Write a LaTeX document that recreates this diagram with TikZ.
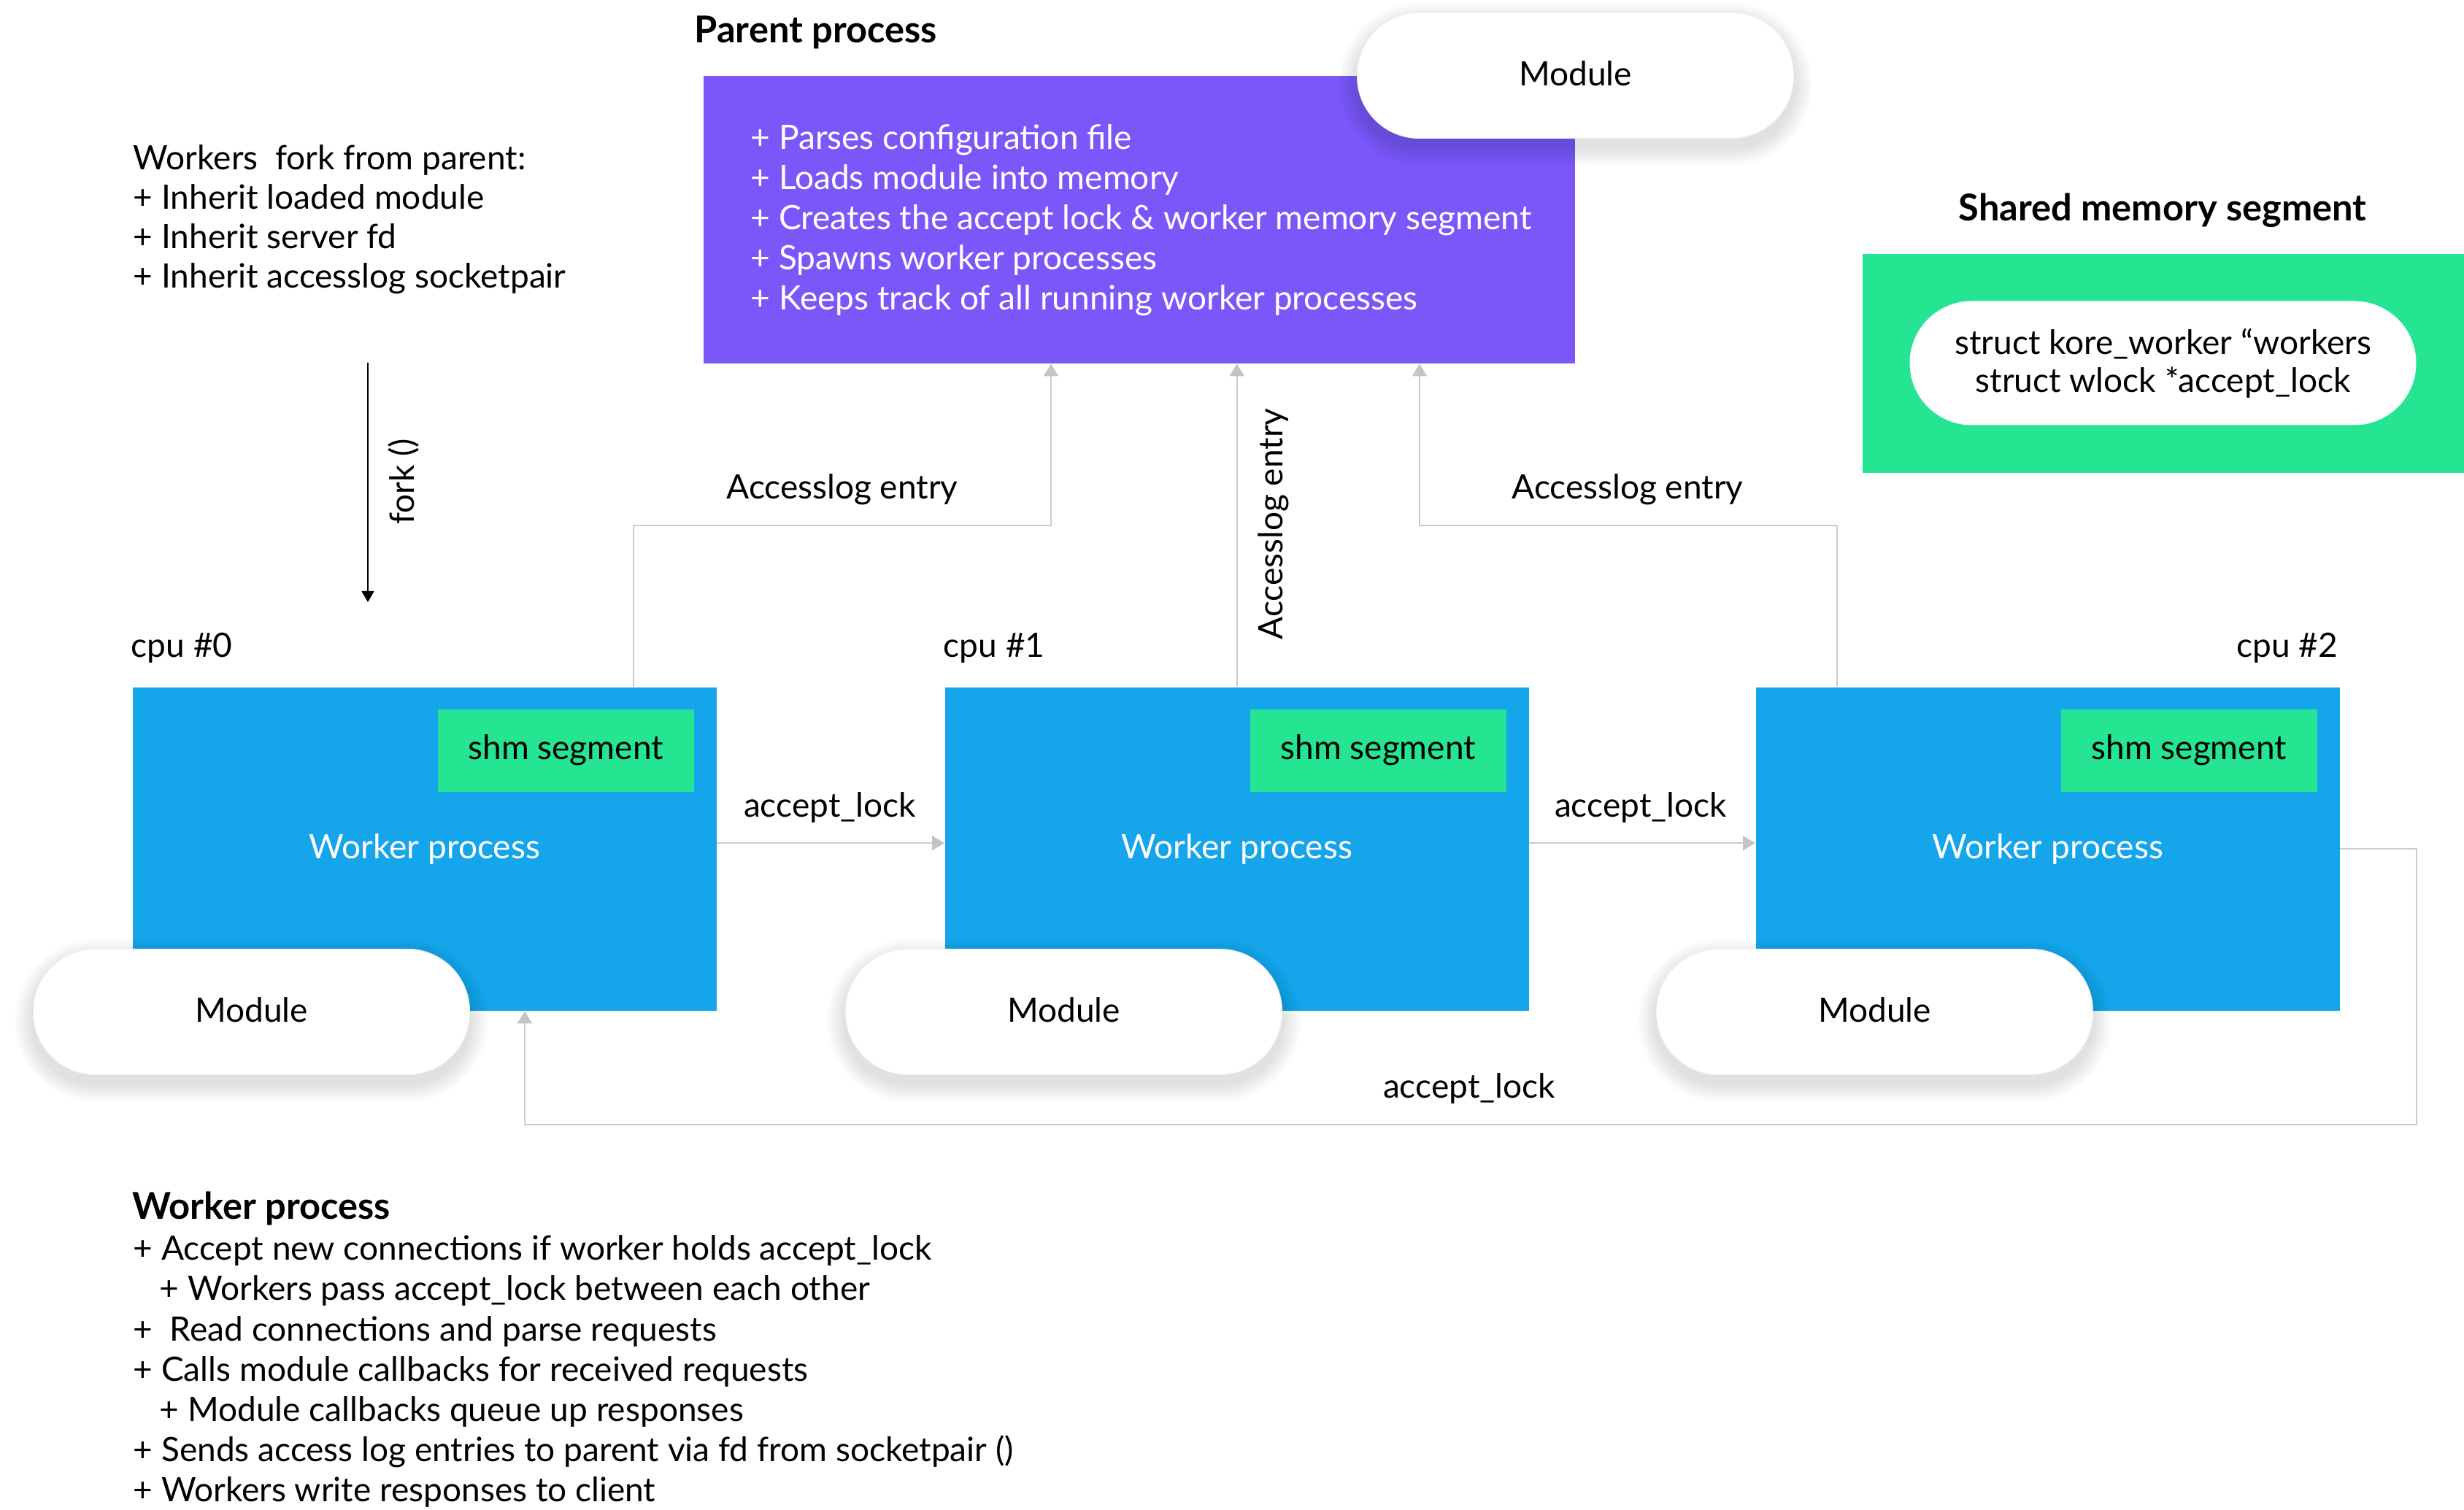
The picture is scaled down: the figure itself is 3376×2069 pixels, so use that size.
\documentclass[tikz,border=0pt]{standalone}
\usepackage{fontspec}
\setmainfont{Lato}
\usetikzlibrary{arrows.meta,calc}
\pgfdeclarelayer{back}
\pgfdeclarelayer{shade}
\pgfsetlayers{back,shade,main}
\definecolor{purp}{HTML}{7B57F9}
\definecolor{wblue}{HTML}{14A5EB}
\definecolor{sgreen}{HTML}{25E592}
\definecolor{lgrey}{HTML}{C9CDD1}
\definecolor{agrey}{HTML}{C4C4C4}
\tikzset{
  txt/.style={font=\fontsize{13.1pt}{15pt}\selectfont, inner sep=0pt},
  hd/.style={font=\fontsize{14.4pt}{16pt}\selectfont\bfseries, inner sep=0pt},
  box/.style={inner sep=0pt, anchor=north west},
  pill/.style={fill=white, draw=black!6, line width=0.1mm, rounded corners=8.5mm, anchor=north west,
    minimum width=59.8mm, minimum height=17.2mm, inner sep=0pt},
  conn/.style={draw=lgrey, line width=0.2mm, -{Triangle[width=2mm,length=1.7mm,color=agrey]}},
}
\begin{document}
\begin{tikzpicture}[x=0.1mm,y=-0.1mm]
\useasboundingbox (0,0) rectangle (3376,2069);

\begin{pgfonlayer}{back}
\fill[white] (0,0) rectangle (3376,2069);
\node[box, fill=purp, minimum width=119.4mm, minimum height=39.4mm] (parent) at (963,103) {};
\node[box, fill=sgreen, minimum width=82.5mm, minimum height=30mm] (shm) at (2551,347) {};
\node[box, fill=wblue, minimum width=80mm, minimum height=44.3mm, text=white, txt] (w0) at (181,941) {Worker process};
\node[box, fill=wblue, minimum width=80mm, minimum height=44.3mm, text=white, txt] (w1) at (1294,941) {Worker process};
\node[box, fill=wblue, minimum width=80mm, minimum height=44.3mm, text=white, txt] (w2) at (2405,941) {Worker process};
\foreach \i in {0,1,2}{
  \node[box, fill=sgreen, minimum width=35.1mm, minimum height=11.3mm, txt] (s\i) at ($(w\i.north west)+(418,30)$) {shm segment};
}
\end{pgfonlayer}

% pills
\node[pill, txt] (mt) at (1859,17) {\raisebox{0.5mm}{Module}};
\foreach \i in {0,1,2}{
  \node[pill, txt] (m\i) at ($(w\i.north west)+(-136,359)$) {\raisebox{0.6mm}{Module}};
}
\node[pill, minimum width=69.4mm, minimum height=17mm, draw=none, txt, align=center,
  font=\fontsize{13.1pt}{14.8pt}\selectfont] (smp) at (2616,412) {struct kore\_worker “workers\\struct wlock *accept\_lock};

% shadows
\begin{pgfonlayer}{shade}
\foreach \n in {mt,m0,m1,m2}{
  \foreach \k in {1,...,10}{
    \fill[black, opacity=0.01, rounded corners={8.6mm+\k*0.25mm}]
      ([xshift={-\k*0.25mm}, yshift={-\k*0.25mm-1.2mm}]\n.south west) rectangle
      ([xshift={\k*0.25mm}, yshift={\k*0.25mm-1.2mm}]\n.north east);
  }
}
\end{pgfonlayer}

% titles
\node[hd, anchor=base west] (ptitle) at (951,59) {Parent process};
\node[hd, anchor=base] (stitle) at (2963,303) {Shared memory segment};

% parent text
\foreach \t [count=\i] in {+ Parses configuration file,+ Loads module into memory,+ Creates the accept lock \& worker memory segment,+ Spawns worker processes,+ Keeps track of all running worker processes}{
  \node[txt, text=white, anchor=base west] (pl\i) at (1028,{205+55*(\i-1)}) {\t};
}

% fork text
\foreach \t [count=\i] in {Workers~ fork from parent:,+ Inherit loaded module,+ Inherit server fd,+ Inherit accesslog socketpair}{
  \node[txt, anchor=base west] (fl\i) at (182,{233+54*(\i-1)}) {\t};
}
\coordinate (f0) at (504,497);
\coordinate (f1) at (504,825);
\draw[line width=0.15mm, -{Triangle[width=1.7mm,length=1.5mm]}] (f0) -- (f1);
\node[txt, rotate=90] (forkl) at (553,660) {fork ()};

% cpu labels
\node[txt, anchor=base west] (c0) at (179,901) {cpu \#0};
\node[txt, anchor=base west] (c1) at (1292,901) {cpu \#1};
\node[txt, anchor=base east] (c2) at (3204,901) {cpu \#2};

% accesslog connectors
\draw[conn] ([xshift=68.7mm]w0.north west) -- ++(0,-221) -| ([xshift=47.7mm]parent.south west);
\draw[conn] (w1.north) -- (w1.north |- parent.south);
\draw[conn] ([xshift=11.2mm]w2.north west) -- ++(0,-221) -| ([xshift=98.2mm]parent.south west);
\node[txt, anchor=base] (al0) at (1154,684) {Accesslog entry};
\node[txt, anchor=base] (al2) at (2230,684) {Accesslog entry};
\node[txt, rotate=90] (al1) at (1745,718) {Accesslog entry};

% accept_lock connectors
\draw[conn] ([yshift=0.8mm]w0.east) -- ([yshift=0.8mm]w1.west);
\draw[conn] ([yshift=0.8mm]w1.east) -- ([yshift=0.8mm]w2.west);
\draw[conn] (w2.east) -- ++(105,0) -- ++(0,378) -| ([xshift=53.8mm]w0.south west);
\node[txt, anchor=base] (lk0) at (1137,1120) {accept\_lock};
\node[txt, anchor=base] (lk1) at (2248,1120) {accept\_lock};
\node[txt, anchor=base] (lk2) at (2013,1505) {accept\_lock};

% worker process description
\node[hd, anchor=base west] (wtitle) at (181,1671) {Worker process};
\foreach \x/\t [count=\i] in {182/+ Accept new connections if worker holds accept\_lock,218/+ Workers pass accept\_lock between each other,182/+~ Read connections and parse requests,182/+ Calls module callbacks for received requests,218/+ Module callbacks queue up responses,182/+ Sends access log entries to parent via fd from socketpair (),182/+ Workers write responses to client}{
  \node[txt, anchor=base west] (wl\i) at (\x,{1727+55*(\i-1)}) {\t};
}
\end{tikzpicture}
\end{document}
